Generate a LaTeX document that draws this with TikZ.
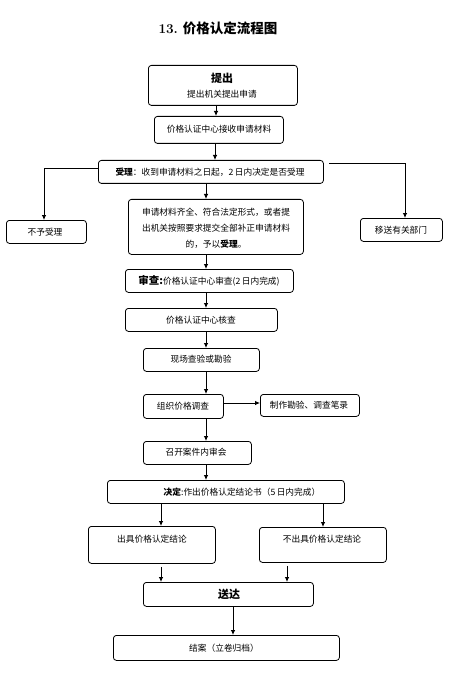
\documentclass[tikz,border=0pt]{standalone}
\usepackage{fontspec}
\newfontfamily\cjk{Noto Sans CJK SC}
\usetikzlibrary{arrows.meta}
\tikzset{
  box/.style={draw, line width=0.8pt, rounded corners=3pt, inner sep=0pt, anchor=north west},
  txt/.style={font=\cjk\fontsize{8.7}{16}\selectfont, inner sep=0pt, align=center},
  arr/.style={line width=0.8pt, -{Latex[length=5pt,width=4.5pt]}},
  ln/.style={line width=0.8pt}
}
\newcommand{\bx}[5]{\node[box, minimum width=#4-#2, minimum height=#5-#3] (#1) at (#2,#3) {};}
\begin{document}
\begin{tikzpicture}[x=1pt,y=-1pt]
\useasboundingbox (0,0) rectangle (449,676);
\node[inner sep=0pt] (title) at (218,28) {\fontsize{13.5}{16}\selectfont\bfseries 13.\ {\cjk\bfseries 价格认定流程图}};
% boxes
\bx{A}{148}{65}{297}{105}
\bx{B}{154}{116}{283}{143}
\bx{C}{98}{160}{323}{183}
\bx{E}{6}{220}{86}{243}
\bx{F}{360}{218}{442}{241}
\bx{D}{128}{199}{303}{254}
\bx{G}{125}{269}{293}{292}
\bx{H}{125}{308}{277}{331}
\bx{I}{143}{348}{259}{371}
\bx{J}{143}{394}{223}{418}
\bx{K}{260}{394}{359}{416}
\bx{L}{143}{441}{251}{464}
\bx{M}{107}{480}{344}{503}
\bx{N}{88}{526}{215}{563}
\bx{O}{259}{527}{386}{562}
\bx{P}{143}{582}{313}{606}
\bx{Q}{113}{635}{339}{660}
% texts
\node[txt, font=\cjk\fontsize{11}{14}\selectfont\bfseries] (tA1) at (222,78) {提出};
\node[txt] (tA2) at (222,94) {提出机关提出申请};
\node[txt] (tB) at (219,129) {价格认证中心接收申请材料};
\node[txt] (tC) at (210,172) {{\bfseries 受理}：收到申请材料之日起，2\,日内决定是否受理};
\node[txt] (tE) at (45,232) {不予受理};
\node[txt] (tF) at (401,230) {移送有关部门};
\node[txt] (tD) at (216,228) {申请材料齐全、符合法定形式，或者提\\出机关按照要求提交全部补正申请材料\\的，予以{\bfseries 受理}。};
\node[txt] (tG) at (209,281) {{\fontsize{10.5}{14}\selectfont\bfseries 审查:}价格认证中心审查(2\,日内完成)};
\node[txt] (tH) at (201,320) {价格认证中心核查};
\node[txt] (tI) at (201,359) {现场查验或勘验};
\node[txt] (tJ) at (183,406) {组织价格调查};
\node[txt] (tK) at (309,405) {制作勘验、调查笔录};
\node[txt] (tL) at (196,452) {召开案件内审会};
\node[txt] (tM) at (242,492) {{\bfseries 决定}:作出价格认定结论书（5\,日内完成）};
\node[txt] (tN) at (152,539) {出具价格认定结论};
\node[txt] (tO) at (322,539) {不出具价格认定结论};
\node[txt, font=\cjk\fontsize{11}{14}\selectfont\bfseries] (tP) at (229,594) {送达};
\node[txt] (tQ) at (224,648) {结案（立卷归档）};
% connectors
\draw[arr] (A.south -| 216,0) -- (B.north -| 216,0);
\draw[arr] (B.south -| 215,0) -- (C.north -| 215,0);
\draw[arr] (C.west |- 0,168) -| (E.north -| 44,0);
\coordinate (cr) at (329,163);
\draw[arr] (cr) -| (F.north -| 405,0);
\draw[arr] (C.south -| 206,0) -- (D.north -| 206,0);
\draw[arr] (D.south -| 206,0) -- (G.north -| 206,0);
\draw[arr] (G.south -| 206,0) -- (H.north -| 206,0);
\draw[arr] (H.south -| 206,0) -- (I.north -| 206,0);
\draw[arr] (I.south -| 206,0) -- (J.north -| 206,0);
\draw[arr] (J.east |- 0,403) -- (K.west |- 0,403);
\draw[arr] (J.south -| 206,0) -- (L.north -| 206,0);
\draw[arr] (L.south -| 206,0) -- (M.north -| 206,0);
\draw[arr] (M.south -| 161,0) -- (N.north -| 161,0);
\draw[arr] (M.south -| 323,0) -- (O.north -| 323,0);
\draw[arr, shorten <=3pt] (N.south -| 161,0) -- (P.north -| 161,0);
\draw[arr, shorten <=3pt] (O.south -| 287,0) -- (P.north -| 287,0);
\draw[arr] (P.south -| 233,0) -- (Q.north -| 233,0);
\end{tikzpicture}
\end{document}
